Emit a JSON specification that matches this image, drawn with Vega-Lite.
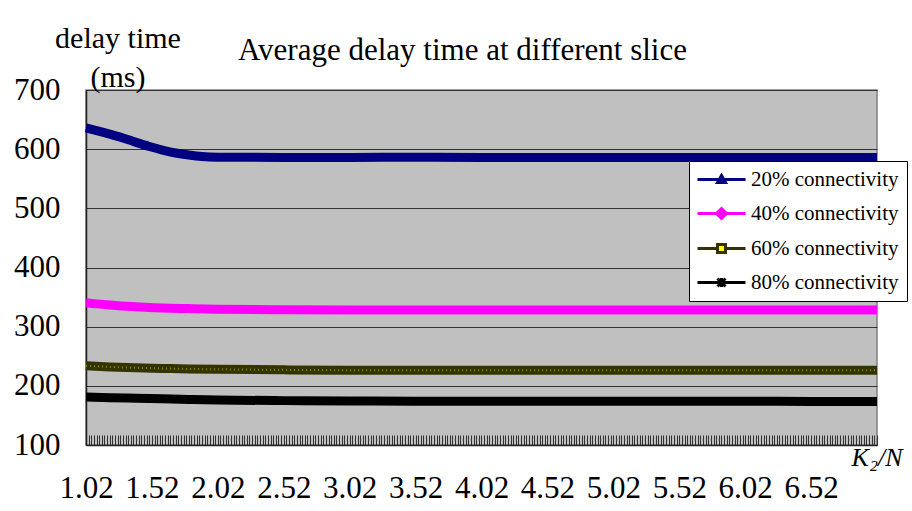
{
  "$schema": "https://vega.github.io/schema/vega-lite/v6.json",
  "width": 791,
  "height": 355,
  "autosize": {"type": "none"},
  "padding": {"left": 86, "top": 90, "right": 35, "bottom": 66},
  "background": "white",
  "title": {"text": "Average delay time at different slice", "font": "Liberation Serif", "fontSize": 31, "fontWeight": "normal", "color": "black", "anchor": "middle", "frame": "group", "dx": -19, "dy": 68, "baseline": "alphabetic", "offset": 0},
  "config": {
    "font": "Liberation Serif",
    "view": {"fill": "#c0c0c0", "stroke": "#808080", "strokeWidth": 1.5},
    "axis": {"labelFont": "Liberation Serif", "titleFont": "Liberation Serif"},
    "legend": {"labelFont": "Liberation Serif"}
  },
  "data": {"values": [
    {"k": 1.02, "delay": 636, "series": "20% connectivity"},
    {"k": 1.1, "delay": 631.5, "series": "20% connectivity"},
    {"k": 1.2, "delay": 625.5, "series": "20% connectivity"},
    {"k": 1.3, "delay": 619, "series": "20% connectivity"},
    {"k": 1.4, "delay": 611.5, "series": "20% connectivity"},
    {"k": 1.5, "delay": 604.5, "series": "20% connectivity"},
    {"k": 1.6, "delay": 598.5, "series": "20% connectivity"},
    {"k": 1.7, "delay": 593.5, "series": "20% connectivity"},
    {"k": 1.8, "delay": 590, "series": "20% connectivity"},
    {"k": 1.9, "delay": 587.5, "series": "20% connectivity"},
    {"k": 2.02, "delay": 586.5, "series": "20% connectivity"},
    {"k": 2.52, "delay": 586, "series": "20% connectivity"},
    {"k": 3.02, "delay": 586, "series": "20% connectivity"},
    {"k": 3.52, "delay": 586.5, "series": "20% connectivity"},
    {"k": 4.02, "delay": 586, "series": "20% connectivity"},
    {"k": 4.52, "delay": 586, "series": "20% connectivity"},
    {"k": 5.02, "delay": 586, "series": "20% connectivity"},
    {"k": 5.52, "delay": 586, "series": "20% connectivity"},
    {"k": 6.02, "delay": 586, "series": "20% connectivity"},
    {"k": 6.52, "delay": 586, "series": "20% connectivity"},
    {"k": 7.02, "delay": 586, "series": "20% connectivity"},
    {"k": 1.02, "delay": 340.5, "series": "40% connectivity"},
    {"k": 1.1, "delay": 338.5, "series": "40% connectivity"},
    {"k": 1.2, "delay": 336.5, "series": "40% connectivity"},
    {"k": 1.3, "delay": 335, "series": "40% connectivity"},
    {"k": 1.4, "delay": 333.5, "series": "40% connectivity"},
    {"k": 1.5, "delay": 332.5, "series": "40% connectivity"},
    {"k": 1.6, "delay": 331.5, "series": "40% connectivity"},
    {"k": 1.8, "delay": 330.5, "series": "40% connectivity"},
    {"k": 2.02, "delay": 329.5, "series": "40% connectivity"},
    {"k": 2.52, "delay": 328.5, "series": "40% connectivity"},
    {"k": 3.02, "delay": 328, "series": "40% connectivity"},
    {"k": 3.52, "delay": 328, "series": "40% connectivity"},
    {"k": 4.02, "delay": 328, "series": "40% connectivity"},
    {"k": 4.52, "delay": 328, "series": "40% connectivity"},
    {"k": 5.02, "delay": 328, "series": "40% connectivity"},
    {"k": 5.52, "delay": 328, "series": "40% connectivity"},
    {"k": 6.02, "delay": 328, "series": "40% connectivity"},
    {"k": 6.52, "delay": 328, "series": "40% connectivity"},
    {"k": 7.02, "delay": 328, "series": "40% connectivity"},
    {"k": 1.02, "delay": 234, "series": "60% connectivity"},
    {"k": 1.2, "delay": 232, "series": "60% connectivity"},
    {"k": 1.4, "delay": 230.5, "series": "60% connectivity"},
    {"k": 1.6, "delay": 229.5, "series": "60% connectivity"},
    {"k": 1.8, "delay": 228.5, "series": "60% connectivity"},
    {"k": 2.02, "delay": 228, "series": "60% connectivity"},
    {"k": 2.52, "delay": 227, "series": "60% connectivity"},
    {"k": 3.02, "delay": 226.5, "series": "60% connectivity"},
    {"k": 3.52, "delay": 226.5, "series": "60% connectivity"},
    {"k": 4.02, "delay": 226.5, "series": "60% connectivity"},
    {"k": 4.52, "delay": 226.5, "series": "60% connectivity"},
    {"k": 5.02, "delay": 226.5, "series": "60% connectivity"},
    {"k": 5.52, "delay": 226.5, "series": "60% connectivity"},
    {"k": 6.02, "delay": 226.5, "series": "60% connectivity"},
    {"k": 6.52, "delay": 226.5, "series": "60% connectivity"},
    {"k": 7.02, "delay": 226.5, "series": "60% connectivity"},
    {"k": 1.02, "delay": 181, "series": "80% connectivity"},
    {"k": 1.2, "delay": 180, "series": "80% connectivity"},
    {"k": 1.4, "delay": 179, "series": "80% connectivity"},
    {"k": 1.6, "delay": 178, "series": "80% connectivity"},
    {"k": 1.8, "delay": 177, "series": "80% connectivity"},
    {"k": 2.02, "delay": 176, "series": "80% connectivity"},
    {"k": 2.52, "delay": 175, "series": "80% connectivity"},
    {"k": 3.02, "delay": 174.5, "series": "80% connectivity"},
    {"k": 3.52, "delay": 174, "series": "80% connectivity"},
    {"k": 4.02, "delay": 174, "series": "80% connectivity"},
    {"k": 4.52, "delay": 174, "series": "80% connectivity"},
    {"k": 5.02, "delay": 174, "series": "80% connectivity"},
    {"k": 5.52, "delay": 174, "series": "80% connectivity"},
    {"k": 6.02, "delay": 174, "series": "80% connectivity"},
    {"k": 6.52, "delay": 173.5, "series": "80% connectivity"},
    {"k": 7.02, "delay": 173.5, "series": "80% connectivity"}
  ]},
  "layer": [
    {
      "mark": {"type": "line", "strokeWidth": 9, "interpolate": "monotone", "strokeCap": "butt"},
      "encoding": {
        "x": {
          "field": "k", "type": "quantitative",
          "scale": {"domain": [1.02, 7.02], "nice": false, "zero": false},
          "axis": {
            "tickCount": 300,
            "labelExpr": "(abs(round((datum.value - 1.02) * 100)) % 50 == 0 && datum.value < 7) ? format(datum.value, '.2f') : ''",
            "labelOverlap": false, "labelFlush": false, "labelBound": false,
            "labelFont": "Liberation Serif", "labelFontSize": 31, "labelColor": "black",
            "labelBaseline": "alphabetic", "labelPadding": 62,
            "tickSize": -10, "tickColor": "#333333", "tickWidth": 1,
            "domainColor": "#222222", "domainWidth": 1.5, "grid": false,
            "title": "K₂/N", "titleFont": "Liberation Serif", "titleFontStyle": "italic", "titleFontWeight": "normal",
            "titleFontSize": 26, "titleColor": "black", "titleAlign": "right", "titleBaseline": "alphabetic",
            "titleX": 816, "titleY": 20
          }
        },
        "y": {
          "field": "delay", "type": "quantitative",
          "scale": {"domain": [100, 700], "nice": false, "zero": false},
          "axis": {
            "values": [100, 200, 300, 400, 500, 600, 700],
            "title": ["delay time", "(ms)"], "titleAngle": 0, "titleAlign": "center", "titleBaseline": "alphabetic",
            "titleX": 31.5, "titleY": -43, "titleFont": "Liberation Serif", "titleFontSize": 30, "titleFontWeight": "normal",
            "titleColor": "black", "titleLineHeight": 39,
            "labelFont": "Liberation Serif", "labelFontSize": 31, "labelColor": "black",
            "labelAlign": "right", "labelBaseline": "middle", "labelPadding": 26,
            "ticks": false, "grid": true, "gridColor": "#333333", "gridWidth": 1, "gridOpacity": 1,
            "domainColor": "#222222", "domainWidth": 1.5
          }
        },
        "color": {
          "field": "series", "type": "nominal",
          "scale": {"domain": ["20% connectivity", "40% connectivity", "60% connectivity", "80% connectivity"], "range": ["#000080", "#ff00ff", "#333300", "#000000"]},
          "legend": {
            "title": null, "orient": "none", "legendX": 603, "legendY": 71,
            "fillColor": "white", "strokeColor": "black", "padding": 8,
            "labelFont": "Liberation Serif", "labelFontSize": 21, "labelColor": "black", "labelLimit": 300,
            "symbolSize": 100, "symbolOffset": 14, "labelOffset": 19, "rowPadding": 12, "symbolType": "circle",
            "encode": {
              "labels": {"update": {"font": {"value": "Liberation Serif"}, "fontSize": {"value": 21}}},
              "symbols": {"update": {
                "shape": {"signal": "datum.value === '20% connectivity' ? 'M-4.8,0H4.8M0,-0.8L0.8,0.6L-0.8,0.6Z' : datum.value === '40% connectivity' ? 'M-4.8,0H4.8M0,-1L1,0L0,1L-1,0Z' : datum.value === '60% connectivity' ? 'M-4.8,0H-0.8M0.8,0H4.8M-0.8,-0.8H0.8V0.8H-0.8Z' : 'M-4.8,0H4.8M-0.8,-0.8L0.8,0.8M-0.8,0.8L0.8,-0.8M0,-0.9V0.9'"},
                "fill": {"signal": "datum.value === '60% connectivity' ? '#ffff00' : datum.value === '20% connectivity' ? '#000080' : datum.value === '40% connectivity' ? '#ff00ff' : '#000000'"},
                "stroke": {"signal": "datum.value === '60% connectivity' ? '#333300' : datum.value === '20% connectivity' ? '#000080' : datum.value === '40% connectivity' ? '#ff00ff' : '#000000'"},
                "strokeWidth": {"value": 3},
                "opacity": {"value": 1},
                "fillOpacity": {"value": 1}
              }}
            }
          }
        }
      }
    },
    {
      "transform": [{"filter": "datum.series == '60% connectivity'"}],
      "mark": {"type": "line", "color": "#e0e000", "strokeWidth": 2, "strokeDash": [1, 3], "opacity": 0.5, "interpolate": "monotone"},
      "encoding": {
        "x": {"field": "k", "type": "quantitative"},
        "y": {"field": "delay", "type": "quantitative"}
      }
    }
  ]
}
